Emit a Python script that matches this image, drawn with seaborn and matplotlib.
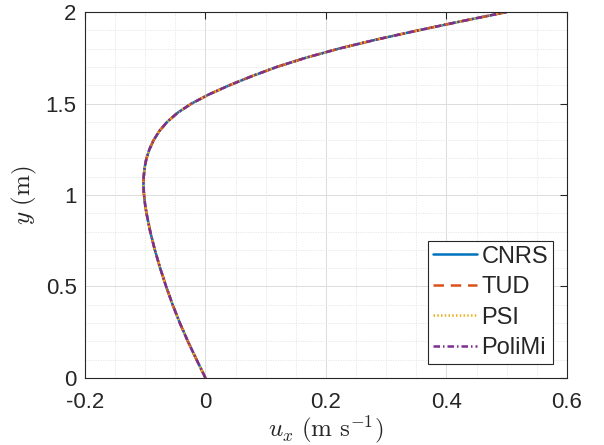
import matplotlib
matplotlib.use("Agg")
import matplotlib.pyplot as plt
from matplotlib.ticker import MultipleLocator
import pandas as pd
import seaborn as sns

# ---- data ----
y_vals = [0.0, 0.1, 0.2, 0.3, 0.4, 0.5, 0.6, 0.7, 0.8, 0.9, 0.95, 1.0, 1.05, 1.1, 1.15,
          1.2, 1.25, 1.3, 1.35, 1.4, 1.45, 1.5, 1.55, 1.6, 1.65, 1.7, 1.75, 1.8,
          1.85, 1.9, 1.95, 2.0]
u_cnrs = [0.0, -0.0148, -0.0292, -0.0425, -0.0545, -0.0653, -0.0752, -0.0841, -0.0917,
          -0.0979, -0.1003, -0.1020, -0.1030, -0.1025, -0.1010, -0.0980, -0.0930, -0.0860,
          -0.0765, -0.0635, -0.0460, -0.0230, 0.0060, 0.0400, 0.0775, 0.1185, 0.1665,
          0.2215, 0.2845, 0.3535, 0.4255, 0.5000]
u_tud = list(u_cnrs)
u_psi = list(u_cnrs)
u_polimi = list(u_cnrs)

series_names = ["CNRS", "TUD", "PSI", "PoliMi"]
series_values = [u_cnrs, u_tud, u_psi, u_polimi]
x_ticks = [-0.2, 0, 0.2, 0.4, 0.6]
x_ticklabels = ["-0.2", "0", "0.2", "0.4", "0.6"]
y_ticks = [0, 0.5, 1, 1.5, 2]
y_ticklabels = ["0", "0.5", "1", "1.5", "2"]

colors = ["#0072BD", "#D95319", "#EDB120", "#7E2F8E"]
linestyles = ["-", (0, (4.2, 2.7)), (0, (0.6, 0.9)), (0, (2.6, 1.2, 0.6, 1.2))]

sns.set_style("white")
plt.rcParams["font.family"] = ["Liberation Sans", "DejaVu Sans"]
plt.rcParams["mathtext.fontset"] = "cm"

fig = plt.figure(figsize=(6.04, 4.45), dpi=100)
ax = fig.add_axes([0.1407, 0.1506, 0.9387 - 0.1407, 0.973 - 0.1506])

for name, vals, c, ls in zip(series_names, series_values, colors, linestyles):
    df = pd.DataFrame({"u": vals, "y": y_vals})
    sns.lineplot(data=df, x="u", y="y", sort=False, estimator=None, ax=ax,
                 color=c, linestyle=ls, linewidth=1.8, label=name)

ax.set_xlim(-0.2, 0.6)
ax.set_ylim(0, 2)
ax.set_xticks(x_ticks)
ax.set_xticklabels(x_ticklabels)
ax.set_yticks(y_ticks)
ax.set_yticklabels(y_ticklabels)
ax.xaxis.set_minor_locator(MultipleLocator(0.05))
ax.yaxis.set_minor_locator(MultipleLocator(0.1))

ax.grid(True, which="major", color="#dcdcdc", linewidth=0.7)
ax.grid(True, which="minor", color="#e4e4e4", linewidth=0.6, linestyle=(0, (1.5, 1.5)))
ax.set_axisbelow(True)

for sp in ax.spines.values():
    sp.set_visible(True)
    sp.set_color("#262626")
    sp.set_linewidth(0.8)

ax.tick_params(which="major", direction="in", length=5, width=0.8, color="#262626",
               top=True, right=True, labelsize=16, labelcolor="#262626")
ax.tick_params(axis="x", which="major", pad=10)
ax.tick_params(axis="y", which="major", pad=6)
ax.tick_params(which="minor", length=0, top=True, right=True)

ax.set_xlabel(r"$u_x\ (\mathrm{m\ s^{-1}})$", fontsize=18, color="#262626", labelpad=0)
ax.set_ylabel(r"$y\ (\mathrm{m})$", fontsize=18, color="#262626", labelpad=5)

leg = ax.legend(loc="lower right", fontsize=17, frameon=True, fancybox=False,
                edgecolor="#262626", framealpha=1, handlelength=1.85,
                handletextpad=0.2, borderpad=0.2, labelspacing=0.36,
                borderaxespad=0.6)
leg.get_frame().set_linewidth(0.8)

fig.savefig("out.png", dpi=100)
